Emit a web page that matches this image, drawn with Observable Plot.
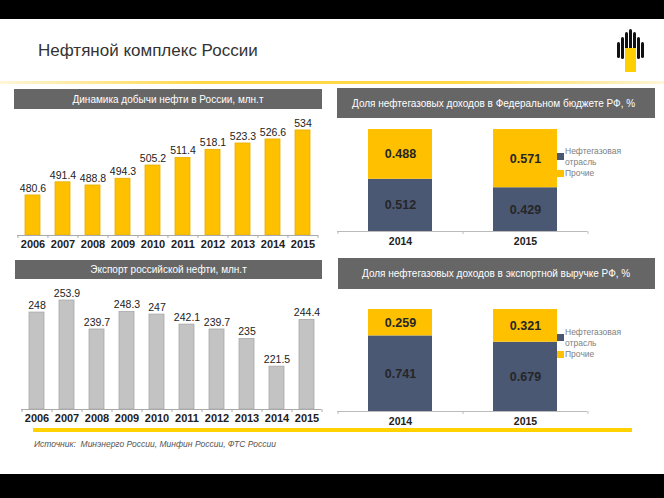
<!DOCTYPE html>
<html>
<head>
<meta charset="utf-8">
<script src="https://cdn.jsdelivr.net/npm/d3@7"></script>
<script src="https://cdn.jsdelivr.net/npm/@observablehq/plot@0.6"></script>
<style>
  html, body { margin: 0; padding: 0; }
  body { width: 664px; height: 498px; position: relative; overflow: hidden; background: #fff; font-family: "Liberation Sans", Arial, sans-serif; }
  .abs { position: absolute; }
  .blackbar { position: absolute; left: 0; width: 664px; background: #000; }
  .hdr { position: absolute; background: #666; color: #fff; font-size: 10px; display: flex; align-items: center; white-space: nowrap; }
  .leg { position: absolute; font-size: 8.5px; color: #808080; line-height: 11px; }
  .sw { position: absolute; width: 7px; height: 7px; }
</style>
</head>
<body>
<div class="blackbar" style="top:0;height:19px"></div>
<div class="blackbar" style="top:474px;height:24px"></div>
<div class="abs" style="left:38px;top:41px;font-size:17px;color:#333">Нефтяной комплекс России</div>
<svg class="abs" style="left:612px;top:28px" width="36" height="46" viewBox="0 0 36 46">
  <rect x="5" y="14" width="3" height="16" rx="1.5" fill="#111"/>
  <rect x="9" y="9" width="3" height="22" rx="1.5" fill="#111"/>
  <rect x="13" y="4" width="3" height="22" rx="1.5" fill="#111"/>
  <rect x="17" y="1" width="3" height="22" rx="1.5" fill="#111"/>
  <rect x="21" y="4" width="3" height="22" rx="1.5" fill="#111"/>
  <rect x="25" y="9" width="3" height="22" rx="1.5" fill="#111"/>
  <rect x="29" y="14" width="3" height="16" rx="1.5" fill="#111"/>
  <rect x="13" y="20" width="11" height="24" fill="#FFD000"/>
</svg>
<div class="abs" style="left:0;top:81px;width:664px;height:3px;background:linear-gradient(to right, rgba(255,210,60,0.2), #FFD84A 30%, #FFD84A 70%, rgba(255,210,60,0.2))"></div>

<div class="hdr" style="left:14px;top:89px;width:308px;height:20px;justify-content:center">Динамика добычи нефти в России, млн.т</div>
<div class="hdr" style="left:337px;top:88px;width:318px;height:30px;padding-left:15px;box-sizing:border-box">Доля нефтегазовых доходов в Федеральном бюджете РФ, %</div>
<div class="hdr" style="left:15px;top:260px;width:307px;height:19px;justify-content:center">Экспорт российской нефти, млн.т</div>
<div class="hdr" style="left:338px;top:258px;width:317px;height:31px;padding-left:24px;box-sizing:border-box">Доля нефтегазовых доходов в экспортной выручке РФ, %</div>

<div id="c1" class="abs" style="left:0;top:110px"></div>
<div id="c2" class="abs" style="left:0;top:280px"></div>
<div id="c3" class="abs" style="left:330px;top:120px"></div>
<div id="c4" class="abs" style="left:330px;top:290px"></div>

<div id="leg1"></div>
<div id="leg2"></div>

<div class="abs" style="left:33px;top:428px;width:599px;height:4px;background:#FFD200"></div>
<div class="abs" style="left:34px;top:439px;font-size:8.5px;color:#555;font-style:italic">Источник:&nbsp; Минэнерго России, Минфин России, ФТС России</div>

<script>
// ---- data ----
const years = ["2006","2007","2008","2009","2010","2011","2012","2013","2014","2015"];
const production = [480.6, 491.4, 488.8, 494.3, 505.2, 511.4, 518.1, 523.3, 526.6, 534];
const exportVolume = [248, 253.9, 239.7, 248.3, 247, 242.1, 239.7, 235, 221.5, 244.4];
const shareYears = ["2014", "2015"];
const budgetOilGas = [0.512, 0.429];
const budgetOther = [0.488, 0.571];
const exportOilGas = [0.741, 0.679];
const exportOther = [0.259, 0.321];
const seriesNames = ["Нефтегазовая отрасль", "Прочие"];
const seriesColors = ["#4A5874", "#FFC000"];

const FONT = "Liberation Sans, Arial, sans-serif";

function barChart(values, opts) {
  const data = years.map((y, i) => ({year: y, value: values[i]}));
  const base = opts.domain[0];
  const w = opts.width, ml = opts.marginLeft, mr = opts.marginRight;
  const step = (w - ml - mr) / years.length;
  const tickData = years.map(y => ({year: y, dx: -step / 2})).concat([{year: years[years.length - 1], dx: step / 2}]);
  const marks = [
    Plot.barY(data, {x: "year", y1: () => base, y2: "value", fill: opts.fill, stroke: opts.stroke, strokeWidth: 0.8}),
    Plot.text(data, {x: "year", y: "value", text: d => String(d.value), dy: -7, fontSize: 10.5, fill: "#222"}),
    Plot.ruleY([base], {stroke: "#aaa", strokeWidth: 1})
  ];
  tickData.forEach(t => marks.push(Plot.ruleX([t], {x: "year", dx: t.dx, y1: () => base, y2: () => base, insetBottom: -3, stroke: "#aaa"})));
  marks.push(Plot.axisX({tickSize: 0, tickPadding: 5, fontSize: 11, fontWeight: "bold", fill: "#222"}));
  return Plot.plot({
    width: w, height: opts.height,
    marginLeft: ml, marginRight: mr, marginTop: opts.marginTop, marginBottom: opts.marginBottom,
    style: {fontFamily: FONT, background: "transparent", overflow: "visible"},
    x: {domain: years, paddingInner: 0.5, paddingOuter: 0.25, label: null},
    y: {domain: opts.domain, axis: null},
    marks
  });
}

document.getElementById("c1").append(barChart(production, {
  width: 330, height: 150, marginLeft: 17, marginRight: 12, marginTop: 0, marginBottom: 25,
  domain: [447.7, 550.4], fill: "#FFC000", stroke: "#E8AE00"
}));
document.getElementById("c2").append(barChart(exportVolume, {
  width: 330, height: 150, marginLeft: 21, marginRight: 9, marginTop: 0, marginBottom: 21,
  domain: [200.5, 263.7], fill: "#C3C3C3", stroke: "#A8A8A8"
}));

function stackChart(oil, other, opts) {
  const rows = [];
  shareYears.forEach((y, i) => {
    rows.push({year: y, series: seriesNames[0], y1: 0, y2: oil[i], mid: oil[i] / 2, value: oil[i]});
    rows.push({year: y, series: seriesNames[1], y1: oil[i], y2: oil[i] + other[i], mid: oil[i] + other[i] / 2, value: other[i]});
  });
  const w = 334, ml = 7, mr = 77;
  const step = (w - ml - mr) / shareYears.length;
  const ticks = [{year: "2014", dx: -step / 2}, {year: "2014", dx: step / 2}, {year: "2015", dx: step / 2}];
  const marks = [
    Plot.barY(rows, {x: "year", y1: "y1", y2: "y2", fill: "series"}),
    Plot.text(rows, {x: "year", y: "mid", text: d => d.value.toFixed(3), fontSize: 12.5, fontWeight: "bold", fill: "#262626"}),
    Plot.ruleY([0], {stroke: "#bbb"})
  ];
  ticks.forEach(t => marks.push(Plot.ruleX([t], {x: "year", dx: t.dx, y1: () => 0, y2: () => 0, insetBottom: -3, stroke: "#bbb"})));
  marks.push(Plot.axisX({tickSize: 0, tickPadding: 6, fontSize: 10.5, fontWeight: "bold", fill: "#222"}));
  return Plot.plot({
    width: w, height: opts.height,
    marginLeft: ml, marginRight: mr, marginTop: opts.marginTop, marginBottom: opts.marginBottom,
    style: {fontFamily: FONT, background: "transparent", overflow: "visible"},
    x: {domain: shareYears, paddingInner: 0.488, paddingOuter: 0.244, label: null},
    y: {domain: [0, 1], axis: null},
    color: {domain: seriesNames, range: seriesColors},
    marks
  });
}

document.getElementById("c3").append(stackChart(budgetOilGas, budgetOther, {height: 135, marginTop: 9, marginBottom: 24}));
document.getElementById("c4").append(stackChart(exportOilGas, exportOther, {height: 135, marginTop: 19, marginBottom: 14}));

function legend(id, left, top) {
  const el = document.getElementById(id);
  el.innerHTML =
    `<div class="sw" style="left:${left}px;top:${top + 7}px;background:${seriesColors[0]}"></div>` +
    `<div class="leg" style="left:${left + 8}px;top:${top}px;width:70px">${seriesNames[0].replace(" ", "<br>")}</div>` +
    `<div class="sw" style="left:${left}px;top:${top + 24}px;background:${seriesColors[1]}"></div>` +
    `<div class="leg" style="left:${left + 8}px;top:${top + 22}px">${seriesNames[1]}</div>`;
}
legend("leg1", 557, 146);
legend("leg2", 557, 327);
</script>
</body>
</html>
